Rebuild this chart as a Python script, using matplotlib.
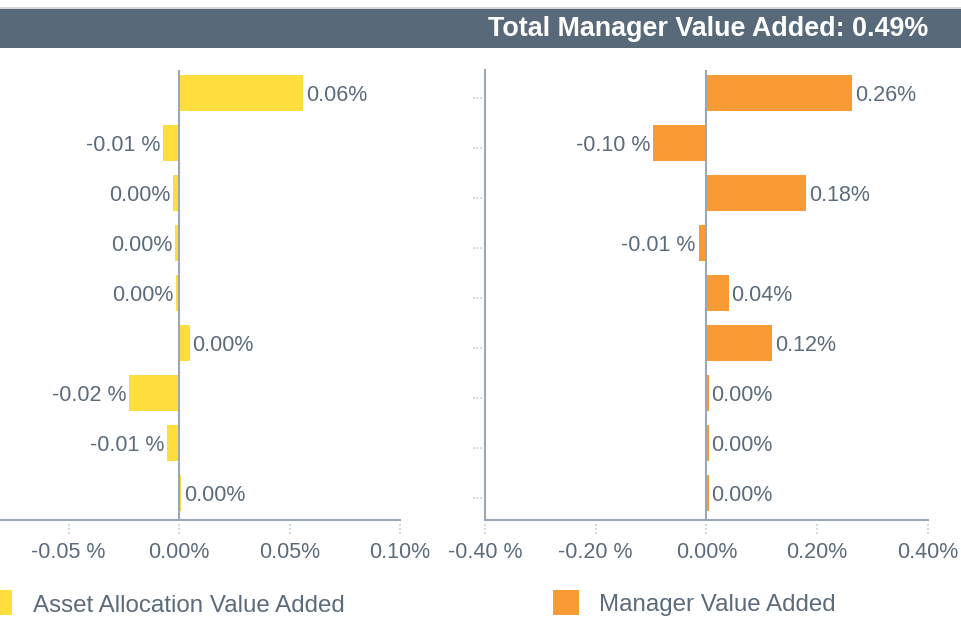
import matplotlib
matplotlib.use("Agg")
import matplotlib.pyplot as plt
from matplotlib.patches import Rectangle
import matplotlib.transforms as mtransforms

plt.rcParams['font.family'] = ['Liberation Sans', 'DejaVu Sans']

categories = ["..."] * 9
asset_alloc = [0.0561, -0.0072, -0.0027, -0.0018, -0.0014, 0.0048, -0.0226, -0.0054, 0.0009]
manager_va = [0.263, -0.096, 0.180, -0.0144, 0.040, 0.119, 0.004, 0.004, 0.004]
left_ticks = [-0.05, 0.00, 0.05, 0.10]
right_ticks = [-0.40, -0.20, 0.00, 0.20, 0.40]
title = "Total Manager Value Added: 0.49%"
legend_labels = ["Asset Allocation Value Added", "Manager Value Added"]

YELLOW = "#FFDD3C"
ORANGE = "#F99B34"
TXT = "#5b6b7c"
AXC = "#9aa7b6"
TICKC = "#c3c8ce"
FS = 15.5

W, H = 962, 624
fig = plt.figure(figsize=(W / 100, H / 100), dpi=100)


def fmt(v):
    r = round(v, 2)
    if r < 0:
        return f"{r:.2f} %"
    return f"{abs(r):.2f}%"


def tick_fmt(v):
    return f"{v:.2f} %" if v < 0 else f"{abs(v):.2f}%"


def px_box(x0, y0, x1, y1):
    return [x0 / W, 1 - y1 / H, (x1 - x0) / W, (y1 - y0) / H]


def draw_panel(ax, vals, color, ticks, xlim, show_ylabels):
    y = list(range(len(vals)))
    ax.barh(y, vals, height=0.72, color=color, zorder=2)
    ax.set_xlim(*xlim)
    ax.set_ylim(8.54, -0.46)
    ax.axvline(0, color=AXC, lw=1.5, zorder=3)
    for s in ["top", "right"]:
        ax.spines[s].set_visible(False)
    ax.spines["bottom"].set_color(AXC)
    ax.spines["bottom"].set_linewidth(1.5)
    ax.spines["left"].set_color(AXC)
    ax.spines["left"].set_linewidth(1.5)
    ax.set_xticks(ticks)
    ax.set_xticklabels([tick_fmt(t) for t in ticks], color=TXT, fontsize=FS)
    ax.tick_params(axis="x", length=0, pad=16)
    trans = mtransforms.blended_transform_factory(ax.transData, ax.transAxes)
    ax.vlines(ticks, -0.008, -0.03, transform=trans, colors=TICKC, linestyles=(0, (1, 1.5)),
              lw=1.2, clip_on=False)
    ax.set_yticks(y)
    if show_ylabels:
        ax.set_yticklabels(categories, color=TICKC, fontsize=11)
    else:
        ax.set_yticklabels([])
    ax.tick_params(axis="y", length=0, pad=1)
    span = xlim[1] - xlim[0]
    off = span * 0.006
    for yi, v in zip(y, vals):
        if v < 0:
            ax.text(v - off, yi, fmt(v), ha="right", va="center_baseline", color=TXT, fontsize=FS)
        else:
            ax.text(v + off, yi, fmt(v), ha="left", va="center_baseline", color=TXT, fontsize=FS)


ax1 = fig.add_axes(px_box(-42, 70, 400, 520))
draw_panel(ax1, asset_alloc, YELLOW, left_ticks, (-0.10, 0.10), False)
ax2 = fig.add_axes(px_box(485, 70, 928, 520))
draw_panel(ax2, manager_va, ORANGE, right_ticks, (-0.40, 0.40), True)

# header
fig.add_artist(Rectangle((0, 1 - 9 / H), 1, 2.5 / H, transform=fig.transFigure,
                         color="#d3d7dc", lw=0))
fig.add_artist(Rectangle((0, 1 - 48 / H), 1, 39 / H, transform=fig.transFigure,
                         color="#586a7a", lw=0))
fig.text(928 / W, 1 - 29 / H, title, ha="right", va="center", color="white",
         fontsize=19.4, fontweight="bold")

# legend
fig.add_artist(Rectangle((-14 / W, 1 - 615 / H), 26 / W, 25 / H, transform=fig.transFigure,
                         color=YELLOW, lw=0))
fig.text(33 / W, 1 - 603 / H, legend_labels[0], ha="left", va="center_baseline", color=TXT, fontsize=17.4)
fig.add_artist(Rectangle((553 / W, 1 - 615 / H), 26 / W, 25 / H, transform=fig.transFigure,
                         color=ORANGE, lw=0))
fig.text(599 / W, 1 - 603 / H, legend_labels[1], ha="left", va="center_baseline", color=TXT, fontsize=17.4)

fig.savefig("out.png", dpi=100)
